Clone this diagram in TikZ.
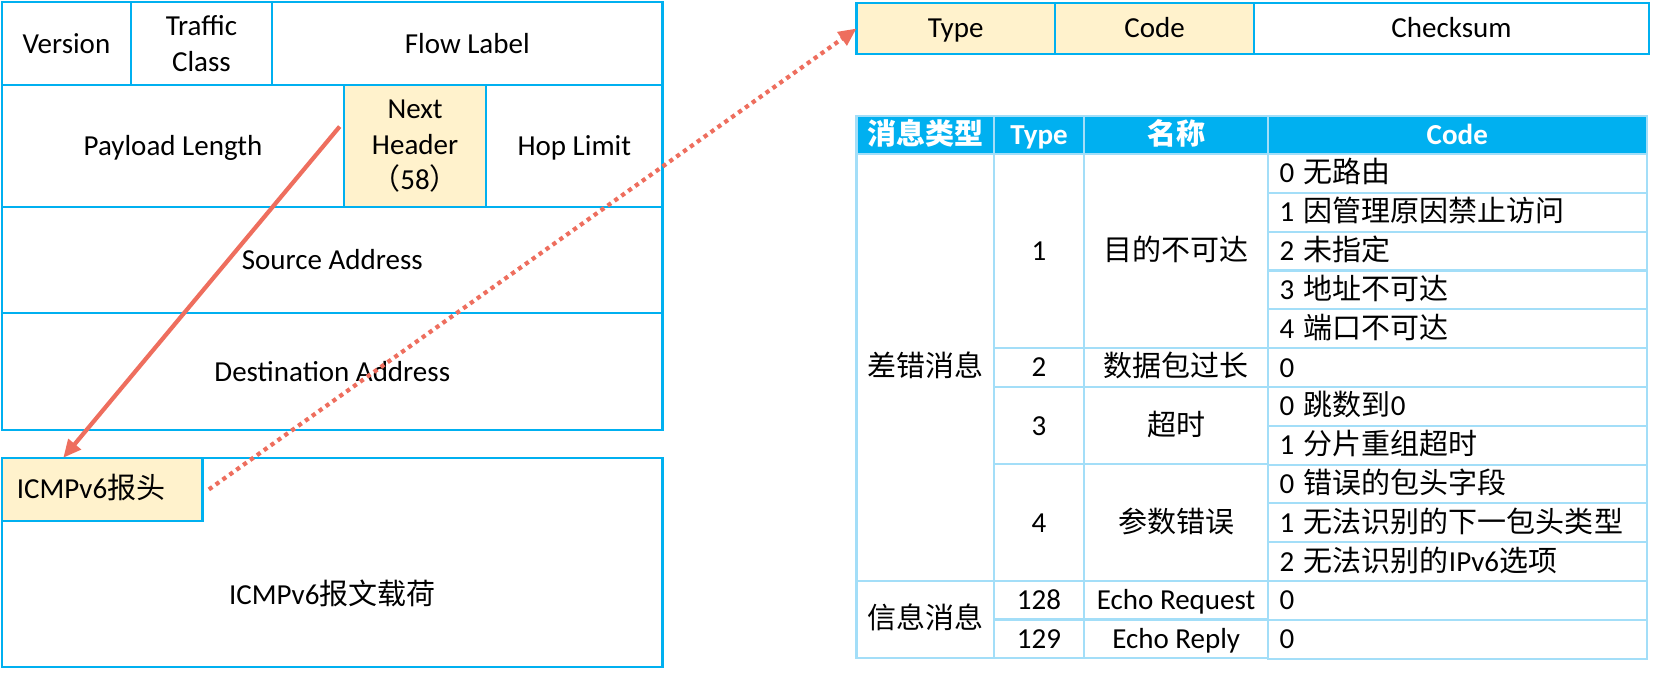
\documentclass[tikz,border=0pt]{standalone}
\usepackage{fontspec}
\setmainfont{Carlito}
\newfontfamily\cjk{Noto Sans CJK SC}
\usetikzlibrary{positioning,arrows.meta}
\definecolor{frameblue}{HTML}{00B0F0}
\definecolor{gridblue}{HTML}{A3DEF8}
\definecolor{hlfill}{HTML}{FFF2CC}
\definecolor{arrowred}{HTML}{EE6E5E}

\begin{document}
\begin{tikzpicture}[x=1pt,y=-1pt,
	field/.style={rectangle,draw=frameblue,line width=2pt,outer sep=0pt,inner sep=2pt,align=center,font=\fontsize{27.5}{34}\selectfont},
	oneline/.style={text height=20pt,text depth=2pt},
	hl/.style={fill=hlfill},
	cell/.style={rectangle,draw=gridblue,line width=2pt,outer sep=0pt,inner sep=0pt,align=center,oneline,font=\fontsize{27.5}{32}\selectfont},
	head/.style={cell,fill=frameblue,text=white,font=\fontsize{27.5}{32}\selectfont\bfseries,minimum height=36pt},
	codecell/.style={cell,minimum width=359pt,minimum height=36.8pt,inner xsep=11pt,text width=337pt,align=left},
	link/.style={arrowred,line width=4pt,-{Triangle[length=17pt,width=15pt]}}]
	\useasboundingbox (0,0) rectangle (1568,640);
	% IPv6 header
	\node (ver)[field,oneline,minimum width=122pt,minimum height=79pt,anchor=north west] at (2,2) {Version};
	\node (tc)[field,minimum width=134pt,minimum height=79pt,right=0pt of ver] {Traffic\\Class};
	\node (flow)[field,oneline,minimum width=370pt,minimum height=79pt,right=0pt of tc] {Flow Label};
	\node (plen)[field,oneline,minimum width=324pt,minimum height=115pt,anchor=north west] at (ver.south west) {Payload Length};
	\node (nh)[field,hl,minimum width=135pt,minimum height=115pt,right=0pt of plen] {Next\\Header\\{\cjk （}58{\cjk ）}};
	\node (hop)[field,oneline,minimum width=167pt,minimum height=115pt,right=0pt of nh] {Hop Limit};
	\node (src)[field,oneline,minimum width=626pt,minimum height=101pt,anchor=north west] at (plen.south west) {Source Address};
	\node (dst)[field,oneline,minimum width=626pt,minimum height=111pt,below=0pt of src] {Destination Address};
	% ICMPv6 message
	\node (msg)[field,minimum width=626pt,minimum height=198pt,anchor=north west] at (2,434) {};
	\node (ih)[field,hl,oneline,minimum width=190pt,minimum height=60pt,inner xsep=14pt,text width=162pt,align=left,anchor=north west] at (msg.north west) {ICMPv6{\cjk 报头}};
	\node (pay)[font=\fontsize{27.5}{32}\selectfont] at (315,563) {ICMPv6{\cjk 报文载荷}};
	% ICMPv6 header fields
	\node (type)[field,hl,oneline,minimum width=188pt,minimum height=48pt,anchor=north west] at (812,3) {Type};
	\node (code)[field,hl,oneline,minimum width=189pt,minimum height=48pt,right=0pt of type] {Code};
	\node (csum)[field,oneline,minimum width=374pt,minimum height=48pt,right=0pt of code] {Checksum};
	% table
	\node (kindh)[head,minimum width=130pt,anchor=north west] at (812,110) {\cjk 消息类型};
	\node (typeh)[head,minimum width=86pt,right=0pt of kindh] {Type};
	\node (nameh)[head,minimum width=174pt,right=0pt of typeh] {\cjk 名称};
	\node (codeh)[head,minimum width=359pt,right=0pt of nameh] {Code};
	\node (err)[cell,minimum width=130pt,minimum height=404.5pt,below=0pt of kindh] {\cjk 差错消息};
	\node (info)[cell,minimum width=130pt,minimum height=73.5pt,below=0pt of err] {\cjk 信息消息};
	\node (t1)[cell,minimum width=86pt,minimum height=183.9pt,below=0pt of typeh] {1};
	\node (t2)[cell,minimum width=86pt,minimum height=36.8pt,below=0pt of t1] {2};
	\node (t3)[cell,minimum width=86pt,minimum height=73.5pt,below=0pt of t2] {3};
	\node (t4)[cell,minimum width=86pt,minimum height=110.3pt,below=0pt of t3] {4};
	\node (t128)[cell,minimum width=86pt,minimum height=36.8pt,below=0pt of t4] {128};
	\node (t129)[cell,minimum width=86pt,minimum height=36.8pt,below=0pt of t128] {129};
	\node (n1)[cell,minimum width=174pt,minimum height=183.9pt,below=0pt of nameh] {\cjk 目的不可达};
	\node (n2)[cell,minimum width=174pt,minimum height=36.8pt,below=0pt of n1] {\cjk 数据包过长};
	\node (n3)[cell,minimum width=174pt,minimum height=73.5pt,below=0pt of n2] {\cjk 超时};
	\node (n4)[cell,minimum width=174pt,minimum height=110.3pt,below=0pt of n3] {\cjk 参数错误};
	\node (n128)[cell,minimum width=174pt,minimum height=36.8pt,below=0pt of n4] {Echo Request};
	\node (n129)[cell,minimum width=174pt,minimum height=36.8pt,below=0pt of n128] {Echo Reply};
	\node (c1a)[codecell,below=0pt of codeh] {0 {\cjk 无路由}};
	\node (c1b)[codecell,below=0pt of c1a] {1 {\cjk 因管理原因禁止访问}};
	\node (c1c)[codecell,below=0pt of c1b] {2 {\cjk 未指定}};
	\node (c1d)[codecell,below=0pt of c1c] {3 {\cjk 地址不可达}};
	\node (c1e)[codecell,below=0pt of c1d] {4 {\cjk 端口不可达}};
	\node (c2)[codecell,below=0pt of c1e] {0};
	\node (c3a)[codecell,below=0pt of c2] {0 {\cjk 跳数到}0};
	\node (c3b)[codecell,below=0pt of c3a] {1 {\cjk 分片重组超时}};
	\node (c4a)[codecell,below=0pt of c3b] {0 {\cjk 错误的包头字段}};
	\node (c4b)[codecell,below=0pt of c4a] {1 {\cjk 无法识别的下一包头类型}};
	\node (c4c)[codecell,below=0pt of c4b] {2 {\cjk 无法识别的}IPv6{\cjk 选项}};
	\node (c128)[codecell,below=0pt of c4c] {0};
	\node (c129)[codecell,below=0pt of c128] {0};
	% arrows
	\coordinate (from) at (322,120);
	\coordinate (to) at (60,434);
	\draw[link] (from) -- (to);
	\draw[link,dash pattern=on 4pt off 4pt] ([xshift=6pt]ih.east) -- (type.west);
\end{tikzpicture}
\end{document}
